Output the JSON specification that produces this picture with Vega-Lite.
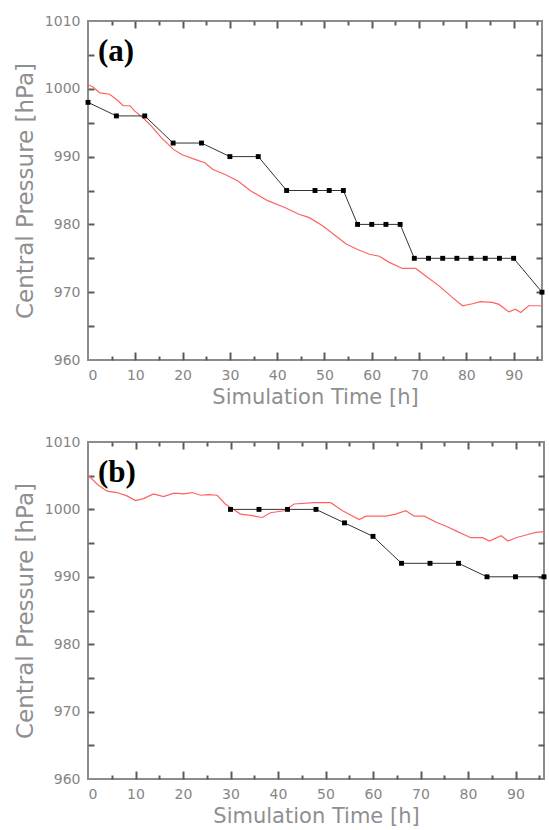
{
  "$schema": "https://vega.github.io/schema/vega-lite/v6.json",
  "background": "white",
  "padding": {"left": 13, "top": 13, "right": 3, "bottom": 2},
  "spacing": 26,
  "config": {
    "view": {"stroke": "#8c8c8c", "strokeWidth": 2},
    "axis": {
      "grid": false,
      "domain": false,
      "labelFont": "DejaVu Sans",
      "labelFontSize": 14,
      "labelColor": "#858585",
      "titleFont": "DejaVu Sans",
      "titleFontSize": 21,
      "titleFontWeight": "normal",
      "titleColor": "#8f8f8f",
      "format": "d"
    }
  },
  "datasets": {
    "a_model": [
      {"t": 0, "p": 1000.6}, {"t": 1, "p": 1000.3}, {"t": 2.5, "p": 999.4}, {"t": 4.6, "p": 999.2},
      {"t": 6.4, "p": 998.2}, {"t": 7.4, "p": 997.5}, {"t": 8.9, "p": 997.5}, {"t": 9.9, "p": 996.7},
      {"t": 11.7, "p": 995.7}, {"t": 13.4, "p": 994.5}, {"t": 15.5, "p": 992.8}, {"t": 18, "p": 991.1},
      {"t": 19.8, "p": 990.3}, {"t": 22.6, "p": 989.6}, {"t": 24.7, "p": 989.1}, {"t": 26.4, "p": 988.1},
      {"t": 28.9, "p": 987.4}, {"t": 31.7, "p": 986.4}, {"t": 34.5, "p": 984.9}, {"t": 38, "p": 983.5},
      {"t": 41.6, "p": 982.5}, {"t": 44.6, "p": 981.5}, {"t": 46.8, "p": 981}, {"t": 49.6, "p": 979.8},
      {"t": 52.4, "p": 978.3}, {"t": 54.6, "p": 977.1}, {"t": 57, "p": 976.3}, {"t": 59.5, "p": 975.6},
      {"t": 61.6, "p": 975.3}, {"t": 63.7, "p": 974.4}, {"t": 66.5, "p": 973.5}, {"t": 69.3, "p": 973.5},
      {"t": 71.4, "p": 972.4}, {"t": 74.3, "p": 970.9}, {"t": 77.1, "p": 969.2}, {"t": 79.2, "p": 968},
      {"t": 81.3, "p": 968.3}, {"t": 83, "p": 968.6}, {"t": 85.5, "p": 968.5}, {"t": 86.9, "p": 968.2},
      {"t": 89, "p": 967.1}, {"t": 90.4, "p": 967.5}, {"t": 91.5, "p": 967}, {"t": 93.2, "p": 968},
      {"t": 96, "p": 968}
    ],
    "a_obs": [
      {"t": 0, "p": 998}, {"t": 6, "p": 996}, {"t": 12, "p": 996}, {"t": 18, "p": 992},
      {"t": 24, "p": 992}, {"t": 30, "p": 990}, {"t": 36, "p": 990}, {"t": 42, "p": 985},
      {"t": 48, "p": 985}, {"t": 51, "p": 985}, {"t": 54, "p": 985}, {"t": 57, "p": 980},
      {"t": 60, "p": 980}, {"t": 63, "p": 980}, {"t": 66, "p": 980}, {"t": 69, "p": 975},
      {"t": 72, "p": 975}, {"t": 75, "p": 975}, {"t": 78, "p": 975}, {"t": 81, "p": 975},
      {"t": 84, "p": 975}, {"t": 87, "p": 975}, {"t": 90, "p": 975}, {"t": 96, "p": 970}
    ],
    "b_model": [
      {"t": 0, "p": 1005.1}, {"t": 2, "p": 1003.7}, {"t": 4, "p": 1002.7}, {"t": 6.1, "p": 1002.5},
      {"t": 8.2, "p": 1002}, {"t": 10, "p": 1001.3}, {"t": 11.7, "p": 1001.6}, {"t": 13.8, "p": 1002.3},
      {"t": 15.9, "p": 1001.9}, {"t": 18.1, "p": 1002.4}, {"t": 20.2, "p": 1002.3}, {"t": 21.9, "p": 1002.5},
      {"t": 23.7, "p": 1002.1}, {"t": 25.4, "p": 1002.2}, {"t": 27.2, "p": 1002.1}, {"t": 28.9, "p": 1000.8},
      {"t": 32.1, "p": 999.3}, {"t": 34.2, "p": 999.1}, {"t": 36.7, "p": 998.8}, {"t": 38.4, "p": 999.5},
      {"t": 41.3, "p": 999.8}, {"t": 43.4, "p": 1000.8}, {"t": 47.6, "p": 1001}, {"t": 51.1, "p": 1001},
      {"t": 53.6, "p": 999.8}, {"t": 57.1, "p": 998.5}, {"t": 58.5, "p": 999}, {"t": 62.7, "p": 999},
      {"t": 64.8, "p": 999.3}, {"t": 66.9, "p": 999.8}, {"t": 68.7, "p": 999}, {"t": 70.8, "p": 999},
      {"t": 73.3, "p": 998.1}, {"t": 75.4, "p": 997.5}, {"t": 77.8, "p": 996.7}, {"t": 80.6, "p": 995.8},
      {"t": 83.1, "p": 995.8}, {"t": 84.5, "p": 995.3}, {"t": 87, "p": 996.1}, {"t": 88.4, "p": 995.3},
      {"t": 90.1, "p": 995.8}, {"t": 92.2, "p": 996.2}, {"t": 94.3, "p": 996.6}, {"t": 96, "p": 996.7}
    ],
    "b_obs": [
      {"t": 30, "p": 1000}, {"t": 36, "p": 1000}, {"t": 42, "p": 1000}, {"t": 48, "p": 1000},
      {"t": 54, "p": 998}, {"t": 60, "p": 996}, {"t": 66, "p": 992}, {"t": 72, "p": 992},
      {"t": 78, "p": 992}, {"t": 84, "p": 990}, {"t": 90, "p": 990}, {"t": 96, "p": 990}
    ]
  },
  "vconcat": [
    {
      "width": 454,
      "height": 339,
      "title": {"text": "(a)", "anchor": "start", "frame": "group", "offset": -54, "dx": 10, "font": "Liberation Serif", "fontWeight": "bold", "fontSize": 31, "color": "black"},
      "resolve": {"axis": {"x": "independent", "y": "independent"}},
      "layer": [
        {
          "data": {"name": "a_model"},
          "mark": {"type": "line", "color": "#ff6262", "strokeWidth": 1.2},
          "encoding": {
            "x": {"field": "t", "type": "quantitative", "scale": {"domain": [0, 96], "nice": false, "zero": false},
              "axis": {"orient": "bottom", "title": "Simulation Time [h]", "titlePadding": 4, "ticks": false,
                "values": [0,10,20,30,40,50,60,70,80,90], "labelPadding": 8}},
            "y": {"field": "p", "type": "quantitative", "scale": {"domain": [960, 1010], "nice": false, "zero": false},
              "axis": {"orient": "left", "title": "Central Pressure [hPa]", "titleFontSize": 23, "titlePadding": 7, "ticks": false,
                "values": [960,970,980,990,1000,1010], "labelPadding": 8}}
          }
        },
        {
          "data": {"name": "a_obs"},
          "mark": {"type": "line", "color": "#333333", "strokeWidth": 1},
          "encoding": {
            "x": {"field": "t", "type": "quantitative",
              "axis": {"orient": "top", "offset": -339, "title": null, "labels": false, "domain": false,
                "ticks": true, "tickColor": "#5a5a5a", "tickWidth": 2, "tickOpacity": 1,
                "values": [5,10,15,20,25,30,35,40,45,50,55,60,65,70,75,80,85,90,95],
                "tickSize": {"condition": {"test": "datum.value % 10 === 0", "value": 8}, "value": 4}}},
            "y": {"field": "p", "type": "quantitative",
              "axis": {"orient": "right", "offset": -454, "title": null, "labels": false, "domain": false,
                "ticks": true, "tickColor": "#5a5a5a", "tickWidth": 2, "tickOpacity": 1,
                "values": [965,970,975,980,985,990,995,1000,1005], "tickSize": 6}}
          }
        },
        {
          "data": {"name": "a_obs"},
          "mark": {"type": "point", "shape": "square", "size": 24, "filled": true, "color": "black", "opacity": 1},
          "encoding": {
            "x": {"field": "t", "type": "quantitative",
              "axis": {"orient": "bottom", "offset": -339, "title": null, "labels": false, "domain": false,
                "ticks": true, "tickColor": "#5a5a5a", "tickWidth": 2, "tickOpacity": 1,
                "values": [5,10,15,20,25,30,35,40,45,50,55,60,65,70,75,80,85,90,95],
                "tickSize": {"condition": {"test": "datum.value % 10 === 0", "value": 7}, "value": 4}}},
            "y": {"field": "p", "type": "quantitative",
              "axis": {"orient": "left", "offset": -454, "title": null, "labels": false, "domain": false,
                "ticks": true, "tickColor": "#5a5a5a", "tickWidth": 2, "tickOpacity": 1,
                "values": [965,970,975,980,985,990,995,1000,1005], "tickSize": 6}}
          }
        }
      ]
    },
    {
      "width": 456,
      "height": 337,
      "title": {"text": "(b)", "anchor": "start", "frame": "group", "offset": -54, "dx": 10, "font": "Liberation Serif", "fontWeight": "bold", "fontSize": 31, "color": "black"},
      "resolve": {"axis": {"x": "independent", "y": "independent"}},
      "layer": [
        {
          "data": {"name": "b_model"},
          "mark": {"type": "line", "color": "#ff6262", "strokeWidth": 1.2},
          "encoding": {
            "x": {"field": "t", "type": "quantitative", "scale": {"domain": [0, 96], "nice": false, "zero": false},
              "axis": {"orient": "bottom", "title": "Simulation Time [h]", "titlePadding": 4, "ticks": false,
                "values": [0,10,20,30,40,50,60,70,80,90], "labelPadding": 8}},
            "y": {"field": "p", "type": "quantitative", "scale": {"domain": [960, 1010], "nice": false, "zero": false},
              "axis": {"orient": "left", "title": "Central Pressure [hPa]", "titleFontSize": 23, "titlePadding": 7, "ticks": false,
                "values": [960,970,980,990,1000,1010], "labelPadding": 8}}
          }
        },
        {
          "data": {"name": "b_obs"},
          "mark": {"type": "line", "color": "#333333", "strokeWidth": 1},
          "encoding": {
            "x": {"field": "t", "type": "quantitative",
              "axis": {"orient": "top", "offset": -337, "title": null, "labels": false, "domain": false,
                "ticks": true, "tickColor": "#5a5a5a", "tickWidth": 2, "tickOpacity": 1,
                "values": [5,10,15,20,25,30,35,40,45,50,55,60,65,70,75,80,85,90,95],
                "tickSize": {"condition": {"test": "datum.value % 10 === 0", "value": 8}, "value": 4}}},
            "y": {"field": "p", "type": "quantitative",
              "axis": {"orient": "right", "offset": -456, "title": null, "labels": false, "domain": false,
                "ticks": true, "tickColor": "#5a5a5a", "tickWidth": 2, "tickOpacity": 1,
                "values": [965,970,975,980,985,990,995,1000,1005], "tickSize": 6}}
          }
        },
        {
          "data": {"name": "b_obs"},
          "mark": {"type": "point", "shape": "square", "size": 24, "filled": true, "color": "black", "opacity": 1},
          "encoding": {
            "x": {"field": "t", "type": "quantitative",
              "axis": {"orient": "bottom", "offset": -337, "title": null, "labels": false, "domain": false,
                "ticks": true, "tickColor": "#5a5a5a", "tickWidth": 2, "tickOpacity": 1,
                "values": [5,10,15,20,25,30,35,40,45,50,55,60,65,70,75,80,85,90,95],
                "tickSize": {"condition": {"test": "datum.value % 10 === 0", "value": 7}, "value": 4}}},
            "y": {"field": "p", "type": "quantitative",
              "axis": {"orient": "left", "offset": -456, "title": null, "labels": false, "domain": false,
                "ticks": true, "tickColor": "#5a5a5a", "tickWidth": 2, "tickOpacity": 1,
                "values": [965,970,975,980,985,990,995,1000,1005], "tickSize": 6}}
          }
        }
      ]
    }
  ]
}
